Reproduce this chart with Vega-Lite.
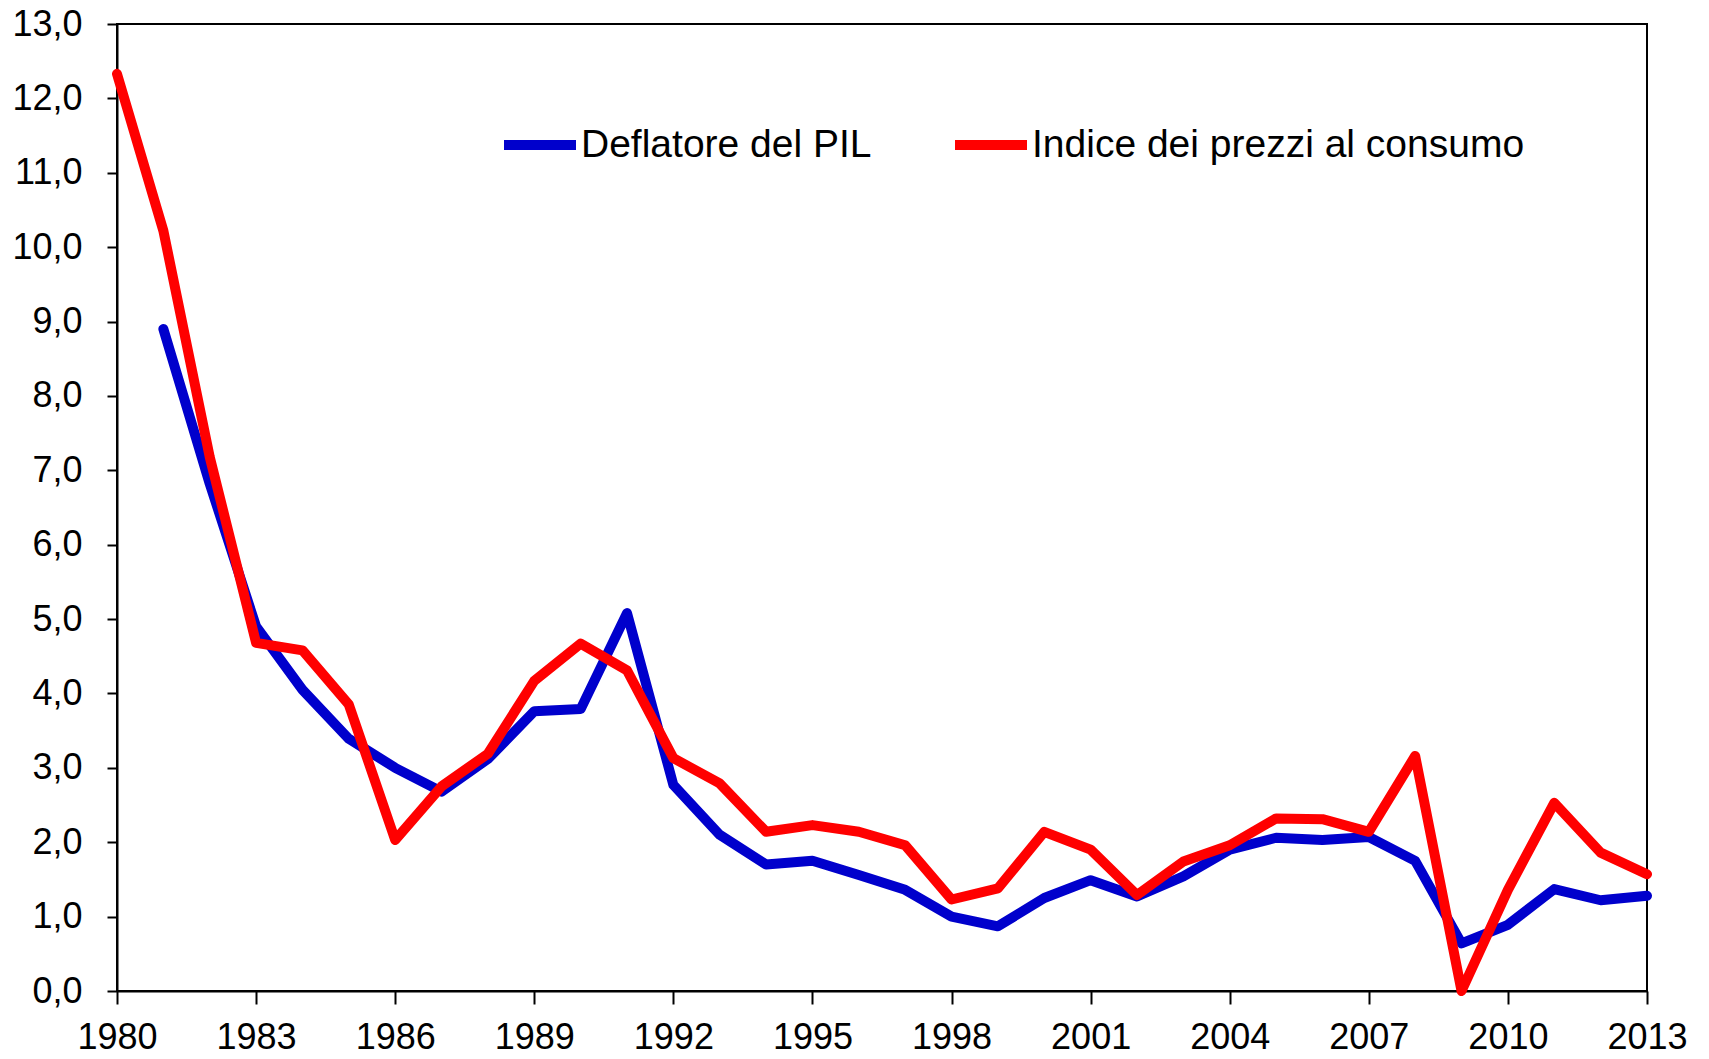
{
  "$schema": "https://vega.github.io/schema/vega-lite/v6.json",
  "width": 1530,
  "height": 967,
  "autosize": {"type": "none"},
  "padding": {"left": 117, "top": 24, "right": 62, "bottom": 68},
  "background": "white",
  "data": {
    "values": [
      {"anno": 1981, "serie": "Deflatore del PIL", "valore": 8.9},
      {"anno": 1982, "serie": "Deflatore del PIL", "valore": 6.82},
      {"anno": 1983, "serie": "Deflatore del PIL", "valore": 4.9},
      {"anno": 1984, "serie": "Deflatore del PIL", "valore": 4.05},
      {"anno": 1985, "serie": "Deflatore del PIL", "valore": 3.39},
      {"anno": 1986, "serie": "Deflatore del PIL", "valore": 3.0},
      {"anno": 1987, "serie": "Deflatore del PIL", "valore": 2.68},
      {"anno": 1988, "serie": "Deflatore del PIL", "valore": 3.12},
      {"anno": 1989, "serie": "Deflatore del PIL", "valore": 3.76},
      {"anno": 1990, "serie": "Deflatore del PIL", "valore": 3.79},
      {"anno": 1991, "serie": "Deflatore del PIL", "valore": 5.08},
      {"anno": 1992, "serie": "Deflatore del PIL", "valore": 2.77},
      {"anno": 1993, "serie": "Deflatore del PIL", "valore": 2.1},
      {"anno": 1994, "serie": "Deflatore del PIL", "valore": 1.7},
      {"anno": 1995, "serie": "Deflatore del PIL", "valore": 1.75},
      {"anno": 1996, "serie": "Deflatore del PIL", "valore": 1.56},
      {"anno": 1997, "serie": "Deflatore del PIL", "valore": 1.36},
      {"anno": 1998, "serie": "Deflatore del PIL", "valore": 1.0},
      {"anno": 1999, "serie": "Deflatore del PIL", "valore": 0.87},
      {"anno": 2000, "serie": "Deflatore del PIL", "valore": 1.25},
      {"anno": 2001, "serie": "Deflatore del PIL", "valore": 1.49},
      {"anno": 2002, "serie": "Deflatore del PIL", "valore": 1.27},
      {"anno": 2003, "serie": "Deflatore del PIL", "valore": 1.54},
      {"anno": 2004, "serie": "Deflatore del PIL", "valore": 1.9},
      {"anno": 2005, "serie": "Deflatore del PIL", "valore": 2.06},
      {"anno": 2006, "serie": "Deflatore del PIL", "valore": 2.03},
      {"anno": 2007, "serie": "Deflatore del PIL", "valore": 2.07},
      {"anno": 2008, "serie": "Deflatore del PIL", "valore": 1.75},
      {"anno": 2009, "serie": "Deflatore del PIL", "valore": 0.64},
      {"anno": 2010, "serie": "Deflatore del PIL", "valore": 0.89},
      {"anno": 2011, "serie": "Deflatore del PIL", "valore": 1.37},
      {"anno": 2012, "serie": "Deflatore del PIL", "valore": 1.22},
      {"anno": 2013, "serie": "Deflatore del PIL", "valore": 1.28},
      {"anno": 1980, "serie": "Indice dei prezzi al consumo", "valore": 12.33},
      {"anno": 1981, "serie": "Indice dei prezzi al consumo", "valore": 10.22},
      {"anno": 1982, "serie": "Indice dei prezzi al consumo", "valore": 7.18},
      {"anno": 1983, "serie": "Indice dei prezzi al consumo", "valore": 4.68},
      {"anno": 1984, "serie": "Indice dei prezzi al consumo", "valore": 4.58},
      {"anno": 1985, "serie": "Indice dei prezzi al consumo", "valore": 3.85},
      {"anno": 1986, "serie": "Indice dei prezzi al consumo", "valore": 2.03},
      {"anno": 1987, "serie": "Indice dei prezzi al consumo", "valore": 2.75},
      {"anno": 1988, "serie": "Indice dei prezzi al consumo", "valore": 3.19},
      {"anno": 1989, "serie": "Indice dei prezzi al consumo", "valore": 4.17},
      {"anno": 1990, "serie": "Indice dei prezzi al consumo", "valore": 4.67},
      {"anno": 1991, "serie": "Indice dei prezzi al consumo", "valore": 4.31},
      {"anno": 1992, "serie": "Indice dei prezzi al consumo", "valore": 3.13},
      {"anno": 1993, "serie": "Indice dei prezzi al consumo", "valore": 2.79},
      {"anno": 1994, "serie": "Indice dei prezzi al consumo", "valore": 2.14},
      {"anno": 1995, "serie": "Indice dei prezzi al consumo", "valore": 2.23},
      {"anno": 1996, "serie": "Indice dei prezzi al consumo", "valore": 2.14},
      {"anno": 1997, "serie": "Indice dei prezzi al consumo", "valore": 1.96},
      {"anno": 1998, "serie": "Indice dei prezzi al consumo", "valore": 1.23},
      {"anno": 1999, "serie": "Indice dei prezzi al consumo", "valore": 1.38},
      {"anno": 2000, "serie": "Indice dei prezzi al consumo", "valore": 2.14},
      {"anno": 2001, "serie": "Indice dei prezzi al consumo", "valore": 1.9},
      {"anno": 2002, "serie": "Indice dei prezzi al consumo", "valore": 1.29},
      {"anno": 2003, "serie": "Indice dei prezzi al consumo", "valore": 1.74},
      {"anno": 2004, "serie": "Indice dei prezzi al consumo", "valore": 1.96},
      {"anno": 2005, "serie": "Indice dei prezzi al consumo", "valore": 2.32},
      {"anno": 2006, "serie": "Indice dei prezzi al consumo", "valore": 2.31},
      {"anno": 2007, "serie": "Indice dei prezzi al consumo", "valore": 2.14},
      {"anno": 2008, "serie": "Indice dei prezzi al consumo", "valore": 3.16},
      {"anno": 2009, "serie": "Indice dei prezzi al consumo", "valore": 0.0},
      {"anno": 2010, "serie": "Indice dei prezzi al consumo", "valore": 1.36},
      {"anno": 2011, "serie": "Indice dei prezzi al consumo", "valore": 2.53},
      {"anno": 2012, "serie": "Indice dei prezzi al consumo", "valore": 1.86},
      {"anno": 2013, "serie": "Indice dei prezzi al consumo", "valore": 1.57}
    ]
  },
  "mark": {"type": "line", "strokeWidth": 10, "strokeCap": "round", "strokeJoin": "round", "clip": false},
  "encoding": {
    "x": {
      "field": "anno",
      "type": "quantitative",
      "scale": {"domain": [1980, 2013], "nice": false, "zero": false},
      "axis": {
        "title": null,
        "values": [1980, 1983, 1986, 1989, 1992, 1995, 1998, 2001, 2004, 2007, 2010, 2013],
        "format": "d",
        "grid": false,
        "labelFontSize": 36,
        "labelFont": "Liberation Sans",
        "labelColor": "black",
        "labelPadding": 16,
        "tickSize": 13,
        "tickWidth": 2,
        "tickColor": "black",
        "domainColor": "black",
        "domainWidth": 2,
        "labelFlush": false,
        "labelOverlap": false
      }
    },
    "y": {
      "field": "valore",
      "type": "quantitative",
      "scale": {"domain": [0, 13], "nice": false},
      "axis": {
        "title": null,
        "values": [0, 1, 2, 3, 4, 5, 6, 7, 8, 9, 10, 11, 12, 13],
        "labelExpr": "replace(format(datum.value, '.1f'), '.', ',')",
        "grid": false,
        "labelFontSize": 36,
        "labelFont": "Liberation Sans",
        "labelColor": "black",
        "labelPadding": 25,
        "tickSize": 10,
        "tickWidth": 2,
        "tickColor": "black",
        "domainColor": "black",
        "domainWidth": 2,
        "labelFlush": false,
        "labelOverlap": false
      }
    },
    "color": {
      "field": "serie",
      "type": "nominal",
      "scale": {"domain": ["Deflatore del PIL", "Indice dei prezzi al consumo"], "range": ["#0000CC", "#FF0000"]},
      "legend": {
        "title": null,
        "orient": "none",
        "direction": "horizontal",
        "legendX": 382,
        "legendY": 80,
        "symbolType": "stroke",
        "symbolSize": 5184,
        "symbolStrokeWidth": 10,
        "labelFontSize": 39,
        "labelFont": "Liberation Sans",
        "labelColor": "black",
        "labelOffset": 0,
        "columnPadding": 63,
        "labelLimit": 1000
      }
    }
  },
  "config": {
    "view": {"stroke": "black", "strokeWidth": 2}
  }
}
